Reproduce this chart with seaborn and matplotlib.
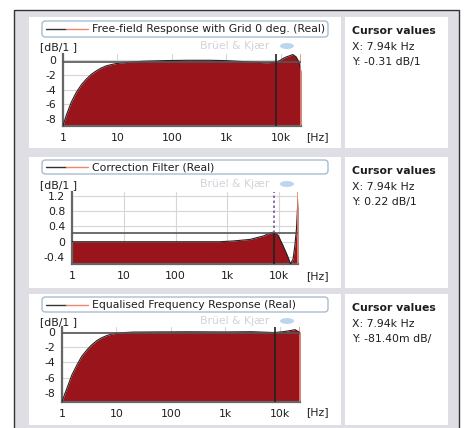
import numpy as np
import pandas as pd
import matplotlib
matplotlib.use("Agg")
import matplotlib.pyplot as plt
import matplotlib.patches as patches
import seaborn as sns

# ---- data ----
freq_ff = [1, 1.15, 1.42, 1.76, 2.2, 2.68, 3.3, 4.09, 5, 6.23, 8, 9.5, 13, 19, 30, 78, 200,
           500, 1000, 2600, 5400, 7940, 9500, 10900, 12500, 14400, 16500, 19000, 21000, 22400, 23300]
db_ff = [-8.93, -7.47, -5.7, -4.36, -3.3, -2.58, -1.95, -1.47, -1.1, -0.8, -0.6, -0.49, -0.38,
         -0.27, -0.18, -0.09, -0.05, -0.05, -0.1, -0.27, -0.4, -0.31, -0.1, 0.2, 0.4, 0.56, 0.73,
         0.4, -0.2, -0.9, -1.5]

freq_cf = [1, 3, 10, 30, 100, 300, 700, 1280, 2700, 4900, 7000, 7940, 9500, 11800, 14300,
           16500, 18500, 20000, 21500, 23000]
db_cf = [0.0, 0.0, 0.0, 0.0, 0.0, 0.0, 0.0, 0.02, 0.06, 0.15, 0.24, 0.25, 0.17, -0.1, -0.36,
         -0.58, -0.45, -0.1, 0.34, 1.15]

freq_eq = [1, 1.23, 1.52, 1.88, 2.3, 2.86, 3.5, 4.35, 5.3, 6.6, 8, 10, 14, 20, 50, 200,
           1000, 3000, 7940, 12000, 16000, 19000, 21000, 23300]
db_eq = [-9.14, -7.4, -5.64, -4.33, -3.2, -2.36, -1.7, -1.14, -0.78, -0.48, -0.3, -0.18,
         -0.08, -0.02, 0.0, 0.02, 0.0, 0.03, -0.08, 0.05, 0.2, 0.3, 0.1, 0.0]

titles = ["Free-field Response with Grid 0 deg. (Real)",
          "Correction Filter (Real)",
          "Equalised Frequency Response (Real)"]
cursor_x = 7940
cursor_y = [-0.31, 0.22, -0.0814]
cursor_texts = ["Y: -0.31 dB/1", "Y: 0.22 dB/1", "Y: -81.40m dB/"]
x_ticks = [1, 10, 100, 1000, 10000]
x_labels = ["1", "10", "100", "1k", "10k"]
y_ticks_db = [0, -2, -4, -6, -8]
y_ticks_cf = [1.2, 0.8, 0.4, 0, -0.4]

sns.set_theme(style="white")
plt.rcParams['font.family'] = ['DejaVu Sans']
plt.rcParams['axes.unicode_minus'] = False

W, H = 466, 428
fig = plt.figure(figsize=(W / 100, H / 100), dpi=100)
fig.patch.set_facecolor('white')

FILL = '#9a141c'
TXT = '#1e1e1e'
FS = 7.8


def rect(x0, y0, x1, y1, **kw):
    fig.patches.append(patches.Rectangle((x0 / W, 1 - y1 / H), (x1 - x0) / W, (y1 - y0) / H,
                                         transform=fig.transFigure, figure=fig, zorder=-10, **kw))


def ftext(x, y, s, **kw):
    fig.text(x / W, 1 - y / H, s, va='center', **kw)


# outer frame + grey background
rect(14, 10, 459, 430, facecolor='#dedee4', edgecolor='#333333', linewidth=1.0)

rows = [
    dict(panel=(17, 148), ax=(63, 301, 54, 126), ylim=(-8.93, 0.8), f=freq_ff, v=db_ff,
         yt=y_ticks_db, ylab=["0", "-2", "-4", "-6", "-8"], hz=137, leg=(21, 37), wm=46),
    dict(panel=(157, 288), ax=(72, 298, 192, 264), ylim=(-0.584, 1.305), f=freq_cf, v=db_cf,
         yt=y_ticks_cf, ylab=["1.2", "0.8", "0.4", "0", "-0.4"], hz=276, leg=(160, 174), wm=184),
    dict(panel=(294, 425), ax=(62, 300, 327, 402), ylim=(-9.2, 0.65), f=freq_eq, v=db_eq,
         yt=y_ticks_db, ylab=["0", "-2", "-4", "-6", "-8"], hz=412, leg=(297, 312), wm=321),
]

for i, r in enumerate(rows):
    py0, py1 = r['panel']
    rect(29, py0, 341, py1, facecolor='white', edgecolor='none')
    rect(345, py0, 448, py1, facecolor='white', edgecolor='none')

    # legend box
    ly0, ly1 = r['leg']
    fig.patches.append(patches.FancyBboxPatch(
        (42 / W, 1 - ly1 / H), (328 - 42) / W, (ly1 - ly0) / H,
        boxstyle="round,pad=0,rounding_size=0.008", transform=fig.transFigure, figure=fig,
        facecolor='white', edgecolor='#a9bccf', linewidth=1.0))
    ly = (ly0 + ly1) / 2
    fig.add_artist(plt.Line2D([46 / W, 66 / W], [1 - ly / H] * 2, color='#333333', lw=1.0))
    fig.add_artist(plt.Line2D([66 / W, 88 / W], [1 - ly / H] * 2, color='#ee8866', lw=1.0))
    ftext(92, ly, titles[i], fontsize=FS, color=TXT)

    # cursor panel
    ftext(352, py0 + 14, "Cursor values", fontsize=FS, fontweight='bold', color=TXT)
    ftext(352, py0 + 30, "X: 7.94k Hz", fontsize=FS, color=TXT)
    ftext(352, py0 + 45, cursor_texts[i], fontsize=FS, color=TXT)

    # axis labels + watermark
    ftext(40, r['wm'] + 1, "[dB/1 ]", fontsize=FS, color=TXT)
    ftext(200, r['wm'], "Brüel & Kjær", fontsize=FS, color='#d2d2da')
    fig.patches.append(patches.Ellipse((287 / W, 1 - r['wm'] / H), 14 / W, 6 / H,
                                       transform=fig.transFigure, figure=fig,
                                       facecolor='#bcd6f0', edgecolor='none'))
    ftext(306, r['hz'], "[Hz]", fontsize=FS, color=TXT)

    x0, x1, y0, y1 = r['ax']
    ax = fig.add_axes([x0 / W, 1 - y1 / H, (x1 - x0) / W, (y1 - y0) / H])
    ax.set_facecolor('white')
    df = pd.DataFrame({'f': r['f'], 'v': r['v']})
    ax.set_xscale('log')
    ax.fill_between(df['f'], r['ylim'][0], df['v'], color=FILL, lw=0, zorder=2)
    sns.lineplot(data=df, x='f', y='v', ax=ax, color='#222222', lw=0.8, zorder=3)
    ax.axvline(df['f'].iloc[-1], color='#ee8866', lw=1.2, zorder=3)
    ax.set_xlim(1, df['f'].iloc[-1])
    ax.set_ylim(*r['ylim'])

    # cursor
    ax.axhline(cursor_y[i], color='#555555', lw=1.2, zorder=4)
    if i == 1:
        ax.plot([cursor_x, cursor_x], [r['ylim'][0], cursor_y[i]], color='#222222', lw=1.2, zorder=4)
        ax.plot([cursor_x, cursor_x], [cursor_y[i], r['ylim'][1]], color='#7a5a9a', lw=1.2,
                ls=(0, (1.5, 1.5)), zorder=4)
    else:
        ax.axvline(cursor_x, color='#222222', lw=1.2, zorder=4)

    ax.set_xticks(x_ticks)
    ax.set_xticklabels(x_labels)
    ax.minorticks_off()
    ax.set_yticks(r['yt'])
    ax.set_yticklabels(r['ylab'])
    ax.grid(True, color='#d6d6d6', lw=0.8, zorder=0)
    ax.set_axisbelow(True)
    ax.set_xlabel("")
    ax.set_ylabel("")
    for s in ['top', 'right']:
        ax.spines[s].set_visible(False)
    for s in ['left', 'bottom']:
        ax.spines[s].set_color('#666666')
        ax.spines[s].set_linewidth(1.6)
    ax.tick_params(axis='both', direction='out', length=3, width=1, color='#555555',
                   labelsize=FS, labelcolor=TXT, pad=2)

fig.savefig("out.png", dpi=100, facecolor='white')
